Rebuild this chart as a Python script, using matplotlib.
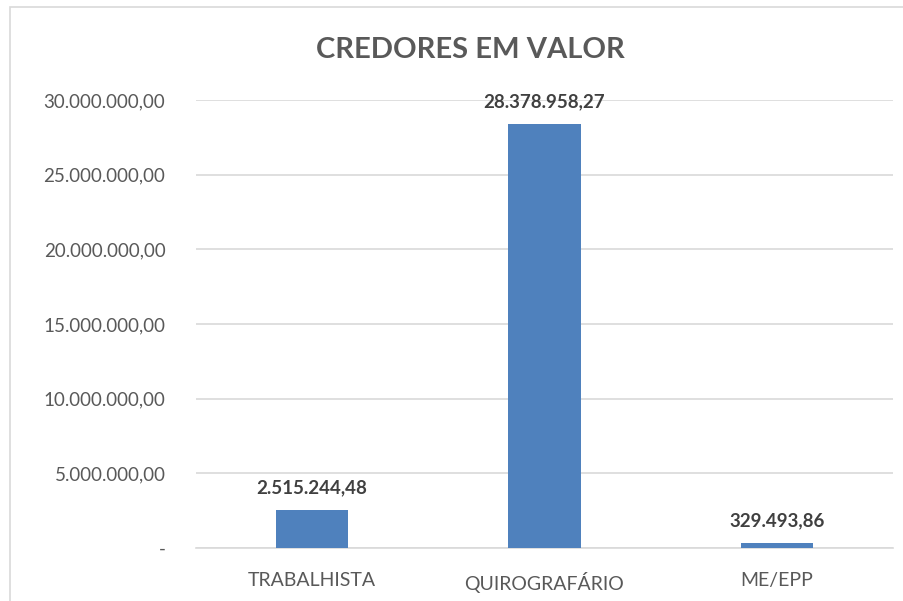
import matplotlib
matplotlib.use('Agg')
from matplotlib import pyplot as plt
from matplotlib.patches import Rectangle

categories = ['TRABALHISTA', 'QUIROGRAFÁRIO', 'ME/EPP']
values = [2515244.48, 28378958.27, 329493.86]
yticks = [0, 5000000, 10000000, 15000000, 20000000, 25000000, 30000000]


def br(v):
    s = '{:,.2f}'.format(v)
    return s.replace(',', 'X').replace('.', ',').replace('X', '.')


plt.rcParams['font.family'] = ['Lato', 'DejaVu Sans']
W, H = 904, 601
fig = plt.figure(figsize=(W / 100, H / 100), dpi=100)
fig.patches.append(Rectangle((10 / W, -0.1), 1.2, 1.1 - 7 / H, transform=fig.transFigure,
                             fill=False, edgecolor='#D9D9D9', linewidth=1.2))

ax = fig.add_axes([196 / W, 1 - 548 / H, (893 - 196) / W, 448 / H])
x = range(len(categories))
bars = ax.bar(x, values, width=0.31, color='#4F81BD', zorder=3)

for xi, v in zip(x, values):
    ax.annotate(br(v), (xi, v), xytext=(0, 10), textcoords='offset points',
                ha='center', va='bottom', fontsize=13.5, fontweight='bold', color='#404040')

ax.set_xlim(-0.5, 2.5)
ax.set_ylim(0, 30000000)
ax.set_yticks(yticks)
ax.set_yticklabels(['-'] + [br(t) for t in yticks[1:]])
ax.set_xticks(list(x))
ax.set_xticklabels(categories)
ax.tick_params(axis='both', length=0, colors='#595959')
ax.tick_params(axis='y', pad=22, labelsize=13.5)
ax.tick_params(axis='x', pad=17, labelsize=14)
ax.grid(axis='y', color='#D9D9D9', linewidth=1.2, zorder=0)
for s in ['top', 'right', 'left']:
    ax.spines[s].set_visible(False)
ax.spines['bottom'].set_color('#D9D9D9')
ax.spines['bottom'].set_linewidth(1.2)

fig.text(470 / W, 1 - 50 / H, 'CREDORES EM VALOR', ha='center', va='center',
         fontsize=21, fontweight='bold', color='#595959')

fig.savefig('out.png', dpi=100)
